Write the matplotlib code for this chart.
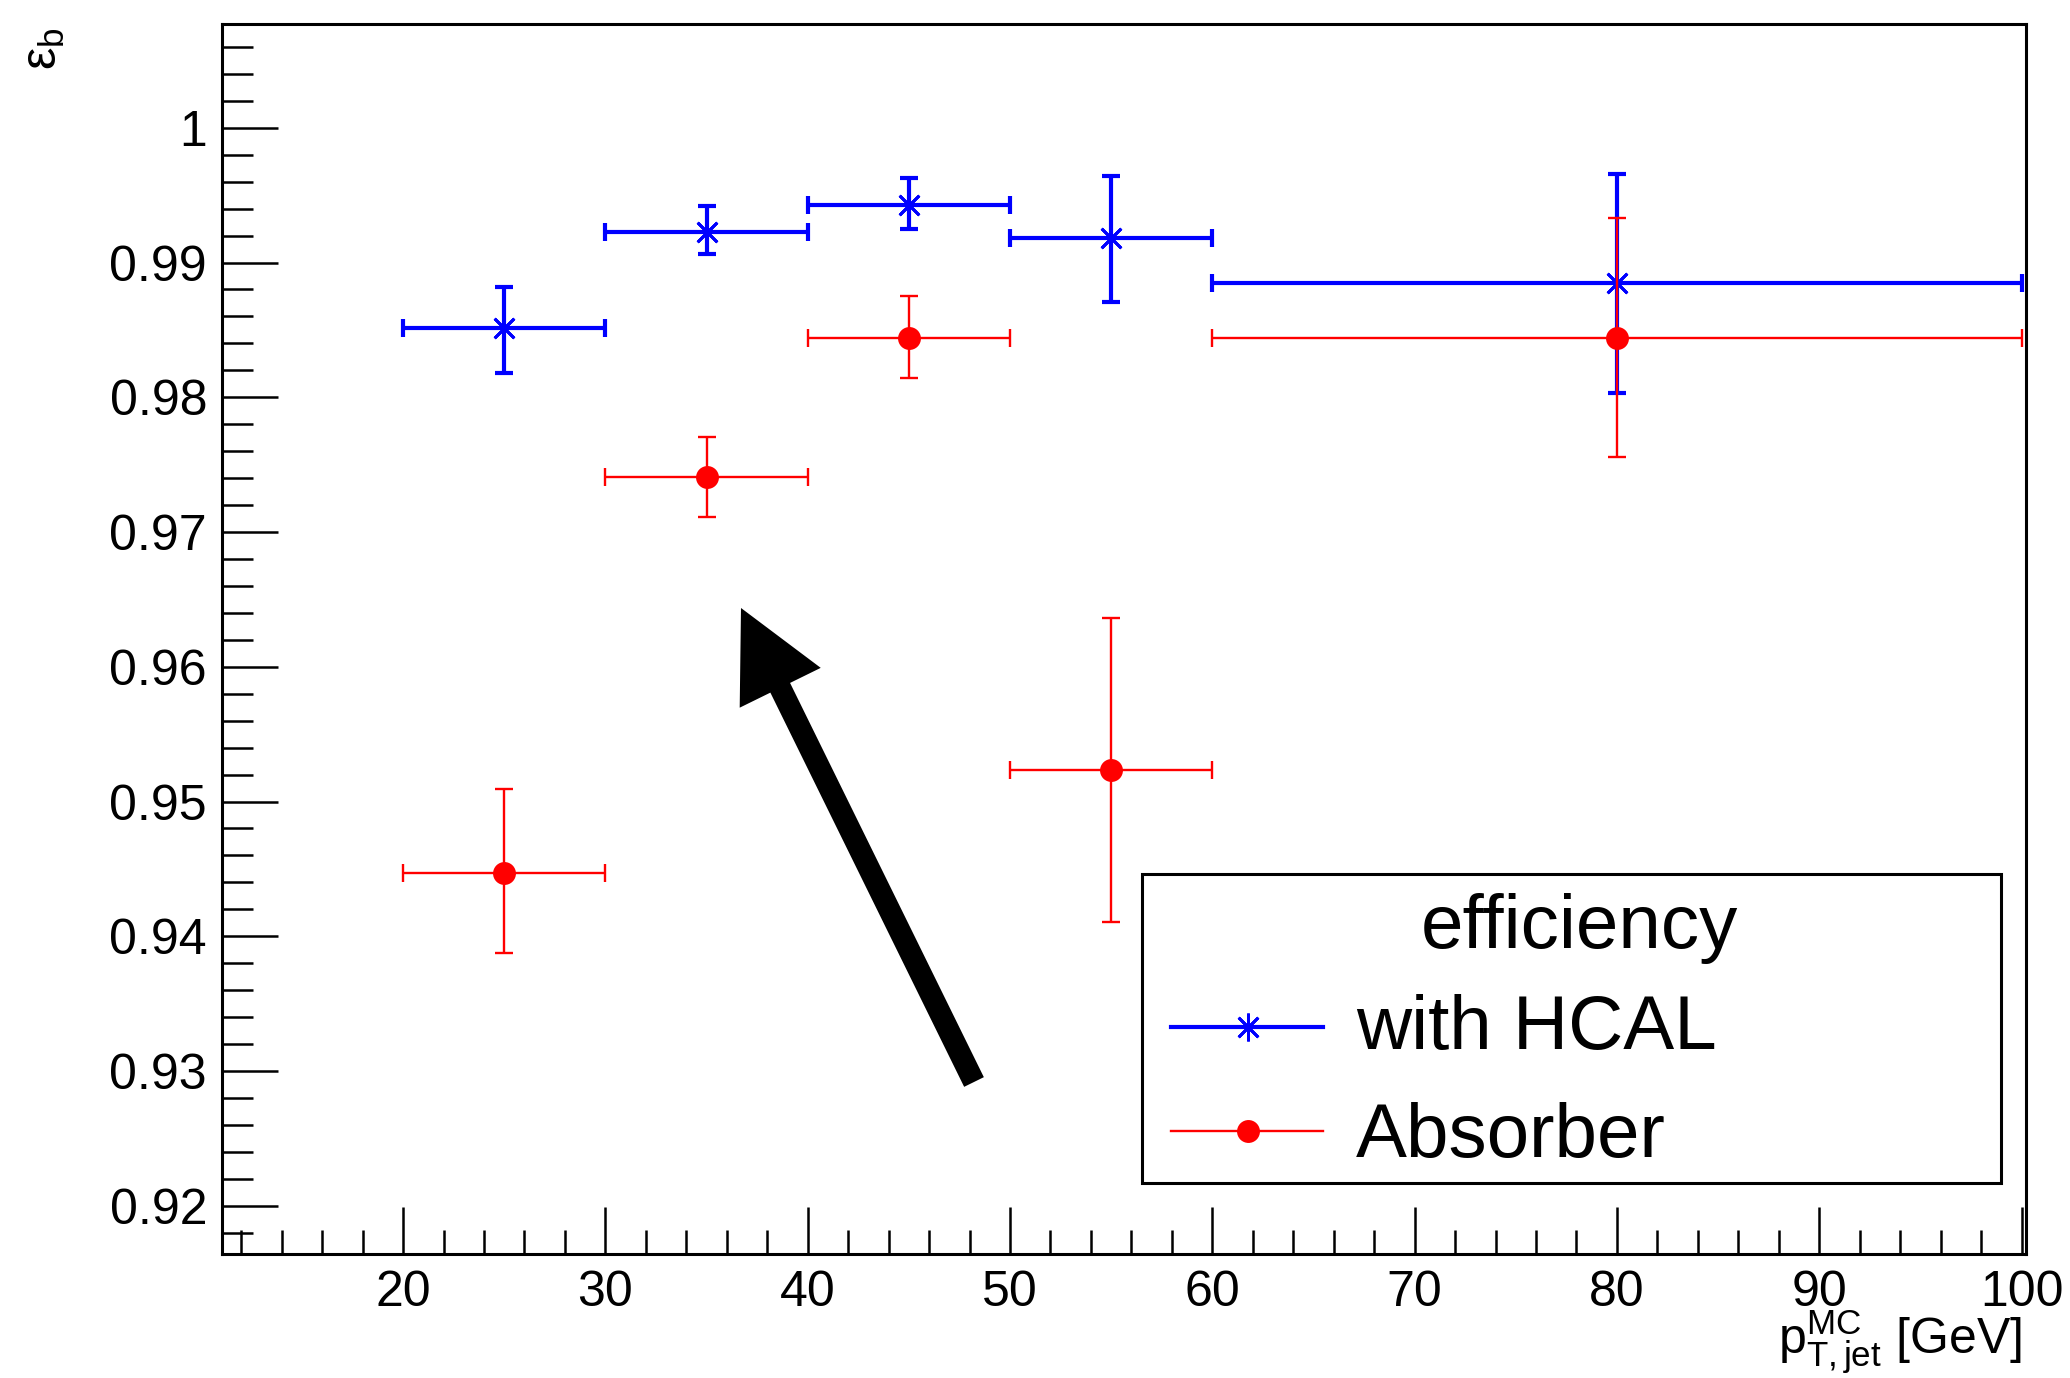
import matplotlib
matplotlib.use('Agg')
import matplotlib.pyplot as plt
from matplotlib.lines import Line2D
from matplotlib.patches import Rectangle
from matplotlib.ticker import MultipleLocator

plt.rcParams['font.family'] = ['Liberation Sans', 'DejaVu Sans']
plt.rcParams['mathtext.fontset'] = 'custom'
plt.rcParams['mathtext.rm'] = 'Liberation Sans'
plt.rcParams['mathtext.it'] = 'Liberation Sans:italic'
plt.rcParams['mathtext.bf'] = 'Liberation Sans:bold'

# ---------------- data ----------------
pt_center = [25, 35, 45, 55, 80]
pt_low = [20, 30, 40, 50, 60]
pt_high = [30, 40, 50, 60, 100]

hcal_eff = [0.98516, 0.99228, 0.99425, 0.99184, 0.98845]
hcal_err_low = [0.00339, 0.00165, 0.00180, 0.00480, 0.00812]
hcal_err_high = [0.00304, 0.00193, 0.00200, 0.00460, 0.00811]

absorber_eff = [0.94467, 0.97410, 0.98437, 0.95233, 0.98437]
absorber_err_low = [0.00594, 0.00301, 0.00292, 0.01125, 0.00879]
absorber_err_high = [0.00623, 0.00292, 0.00316, 0.01126, 0.00891]

x_ticks = [20, 30, 40, 50, 60, 70, 80, 90, 100]
x_tick_labels = ["20", "30", "40", "50", "60", "70", "80", "90", "100"]
y_ticks = [0.92, 0.93, 0.94, 0.95, 0.96, 0.97, 0.98, 0.99, 1.0]
y_tick_labels = ["0.92", "0.93", "0.94", "0.95", "0.96", "0.97", "0.98", "0.99", "1"]

legend_header = "efficiency"
label_hcal = "with HCAL"
label_absorber = "Absorber"

# ---------------- figure ----------------
W, H = 2070, 1378
fig = plt.figure(figsize=(W / 100, H / 100), dpi=100)
ax = fig.add_axes([222 / W, 1 - 1254 / H, (2026 - 222) / W, (1254 - 24) / H])

xerr = [[c - l for c, l in zip(pt_center, pt_low)],
        [h - c for c, h in zip(pt_center, pt_high)]]

blue = '#0000ff'
red = '#ff0000'

ax.errorbar(pt_center, hcal_eff, xerr=xerr, yerr=[hcal_err_low, hcal_err_high],
            fmt='none', ecolor=blue, elinewidth=3.0, capsize=6.5, capthick=3.0, zorder=3)
ax.plot(pt_center, hcal_eff, linestyle='none', marker=(8, 2, 0), ms=20, mew=2.0,
        color=blue, zorder=4)

ax.errorbar(pt_center, absorber_eff, xerr=xerr, yerr=[absorber_err_low, absorber_err_high],
            fmt='none', ecolor=red, elinewidth=1.7, capsize=6.5, capthick=1.7, zorder=5)
ax.plot(pt_center, absorber_eff, linestyle='none', marker='o', ms=16.5, mew=0,
        color=red, zorder=6)

ax.set_xlim(11.05, 100.22)
ax.set_ylim(0.91642, 1.0077)
ax.set_xticks(x_ticks, x_tick_labels)
ax.set_yticks(y_ticks, y_tick_labels)
ax.xaxis.set_minor_locator(MultipleLocator(2))
ax.yaxis.set_minor_locator(MultipleLocator(0.002))

ax.tick_params(axis='both', which='both', direction='in', top=False, right=False,
               width=1.8, color='black')
ax.tick_params(axis='y', which='major', length=40, pad=10.8, labelsize=36)
ax.tick_params(axis='y', which='minor', length=22)
ax.tick_params(axis='x', which='major', length=34, pad=11.5, labelsize=36)
ax.tick_params(axis='x', which='minor', length=17)
for sp in ax.spines.values():
    sp.set_linewidth(2.2)

# axis titles (ROOT style placement)
fig.text(2022 / W, 1 - 1353 / H, r'$\mathrm{p}^{\mathrm{MC}}_{\mathrm{T,jet}}$ [GeV]',
         ha='right', va='baseline', fontsize=36)
fig.text(44 / W, 1 - 27 / H, r'$\mathrm{\varepsilon_{b}}$', rotation=90,
         ha='center', va='top', fontsize=36)

# legend (ROOT TLegend style box)
fig.add_artist(Rectangle((1142 / W, 1 - 1183 / H), (2001 - 1142) / W, (1183 - 874) / H,
                         transform=fig.transFigure, fill=True, facecolor='white',
                         edgecolor='black', lw=2.2, zorder=10))
fig.text(1579 / W, 1 - 948 / H, legend_header, ha='center', va='baseline',
         fontsize=55, zorder=11)
fig.add_artist(Line2D([1171 / W, 1323 / W], [1 - 1027 / H] * 2, transform=fig.transFigure,
                      color=blue, lw=3.0, zorder=11))
fig.add_artist(Line2D([1248 / W], [1 - 1027 / H], transform=fig.transFigure,
                      linestyle='none', marker=(8, 2, 0), ms=20, mew=2.0, color=blue, zorder=12))
fig.text(1356 / W, 1 - 1049.5 / H, label_hcal, ha='left', va='baseline', fontsize=55, zorder=11)
fig.add_artist(Line2D([1171 / W, 1323 / W], [1 - 1131 / H] * 2, transform=fig.transFigure,
                      color=red, lw=1.7, zorder=11))
fig.add_artist(Line2D([1248 / W], [1 - 1131 / H], transform=fig.transFigure,
                      linestyle='none', marker='o', ms=16.5, mew=0, color=red, zorder=12))
fig.text(1356 / W, 1 - 1156.5 / H, label_absorber, ha='left', va='baseline', fontsize=55, zorder=11)

# annotation arrow
ax.annotate('', xy=(741, H - 608), xytext=(974, H - 1082),
            xycoords='figure pixels', textcoords='figure pixels',
            arrowprops=dict(width=15.8, headwidth=65, headlength=64,
                            facecolor='black', edgecolor='black', lw=0, shrink=0))

fig.savefig('out.png', dpi=100)
